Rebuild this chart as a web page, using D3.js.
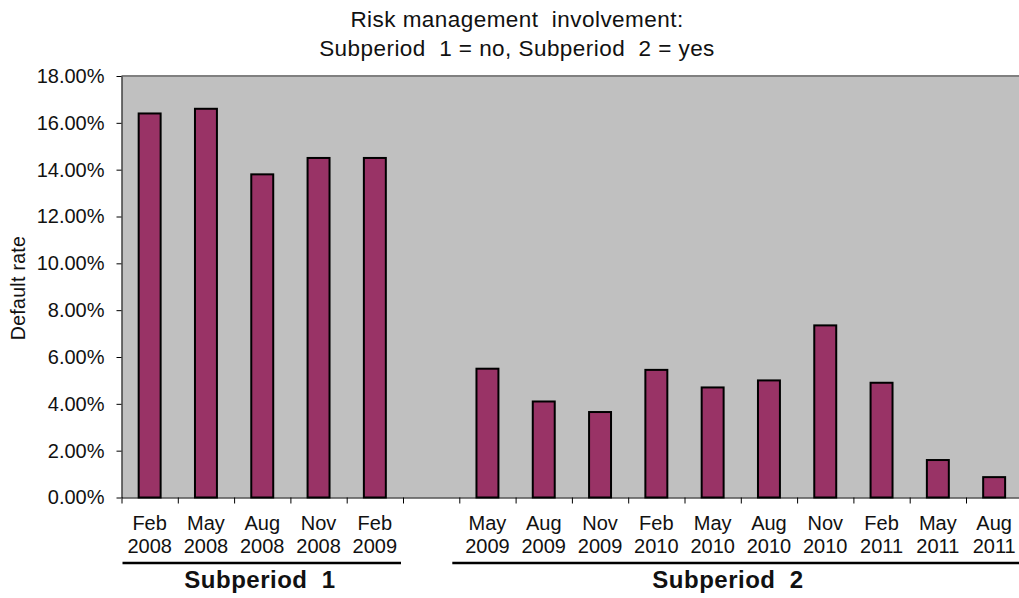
<!DOCTYPE html>
<html>
<head>
<meta charset="utf-8">
<script src="https://cdn.jsdelivr.net/npm/d3@7"></script>
<style>
  html, body { margin: 0; padding: 0; background: #fff; }
  svg { display: block; font-family: "Liberation Sans", Arial, sans-serif; }
  text { white-space: pre; fill: #111; }
</style>
</head>
<body>
<svg id="chart" width="1019" height="598"></svg>
<script>
// Quarterly default rates (%), split into the two subperiods
const periods1 = ["Feb 2008", "May 2008", "Aug 2008", "Nov 2008", "Feb 2009"];
const rates1 = [16.4, 16.6, 13.8, 14.5, 14.5];
const periods2 = ["May 2009", "Aug 2009", "Nov 2009", "Feb 2010", "May 2010",
                  "Aug 2010", "Nov 2010", "Feb 2011", "May 2011", "Aug 2011"];
const rates2 = [5.5, 4.1, 3.65, 5.45, 4.7, 5.0, 7.35, 4.9, 1.6, 0.87];
const yTicks = [0, 2, 4, 6, 8, 10, 12, 14, 16, 18];
const groupNames = ["Subperiod  1", "Subperiod  2"];
const titleLines = ["Risk management  involvement:", "Subperiod  1 = no, Subperiod  2 = yes"];
const yLabel = "Default rate";

// One slot per quarter, with an empty slot between the subperiods
const slots = [
  ...periods1.map((p, i) => ({ key: p, label: p, value: rates1[i], group: 0 })),
  { key: "gap", label: "", value: null, group: -1 },
  ...periods2.map((p, i) => ({ key: p, label: p, value: rates2[i], group: 1 }))
];

const svg = d3.select("#chart");
const plot = { left: 121.5, right: 1022.3, top: 76, bottom: 497.5 };

const x = d3.scaleBand()
  .domain(slots.map(d => d.key))
  .range([plot.left, plot.right])
  .padding(0);
const xEdges = d3.scaleLinear()
  .domain([0, slots.length])
  .range([plot.left, plot.right]);
const y = d3.scaleLinear()
  .domain([0, 18])
  .range([plot.bottom, plot.top]);

// Plot area
svg.append("rect")
  .attr("x", plot.left).attr("y", plot.top)
  .attr("width", plot.right - plot.left).attr("height", plot.bottom - plot.top)
  .attr("fill", "#c0c0c0");
svg.append("line")
  .attr("x1", plot.left).attr("x2", plot.right)
  .attr("y1", plot.top).attr("y2", plot.top)
  .attr("stroke", "#808080").attr("stroke-width", 2);

// Bars
const barW = x.bandwidth() * 0.39;
svg.append("g").selectAll("rect")
  .data(slots.filter(d => d.value !== null))
  .join("rect")
  .attr("x", d => x(d.key) + (x.bandwidth() - barW) / 2)
  .attr("y", d => y(d.value))
  .attr("width", barW)
  .attr("height", d => y(0) - y(d.value))
  .attr("fill", "#993366")
  .attr("stroke", "#000")
  .attr("stroke-width", 2);

// Y axis
const yAxis = svg.append("g")
  .attr("transform", `translate(${plot.left},0)`)
  .call(d3.axisLeft(y).tickValues(yTicks)
    .tickFormat(v => d3.format(".2%")(v / 100))
    .tickSize(5).tickSizeOuter(0).tickPadding(12));
yAxis.select(".domain").attr("stroke", "#000");
yAxis.selectAll(".tick line").attr("stroke", "#000");
yAxis.selectAll("text")
  .attr("font-size", 20)
  .attr("font-family", "'Liberation Sans', Arial, sans-serif")
  .style("fill", "#111");

// X axis: tick marks on the slot boundaries
const xAxis = svg.append("g")
  .attr("transform", `translate(0,${plot.bottom})`)
  .call(d3.axisBottom(xEdges).tickValues(d3.range(0, slots.length + 1))
    .tickFormat("").tickSize(6).tickSizeOuter(0));
xAxis.select(".domain").attr("stroke", "#000");
xAxis.selectAll(".tick line").attr("stroke", "#000");

// Two-line category labels
const catLabels = svg.append("g").selectAll("text")
  .data(slots.filter(d => d.label))
  .join("text")
  .attr("x", d => x(d.key) + x.bandwidth() / 2)
  .attr("text-anchor", "middle")
  .attr("font-size", 20);
catLabels.append("tspan")
  .attr("x", d => x(d.key) + x.bandwidth() / 2)
  .attr("y", 529.5)
  .text(d => d.label.split(" ")[0]);
catLabels.append("tspan")
  .attr("x", d => x(d.key) + x.bandwidth() / 2)
  .attr("y", 552.5)
  .text(d => d.label.split(" ")[1]);

// Subperiod brackets and names
const groups = groupNames.map((name, g) => {
  const members = slots.filter(d => d.group === g);
  return {
    name,
    x0: x(members[0].key),
    x1: x(members[members.length - 1].key) + x.bandwidth()
  };
});
groups[0].lx0 = groups[0].x0 + 1; groups[0].lx1 = groups[0].x1 - 2;
groups[1].lx0 = groups[1].x0 - 7; groups[1].lx1 = groups[1].x1;
groups[0].cx = 260; groups[1].cx = 728;

svg.append("g").selectAll("line")
  .data(groups)
  .join("line")
  .attr("x1", d => d.lx0).attr("x2", d => d.lx1)
  .attr("y1", 563).attr("y2", 563)
  .attr("stroke", "#000").attr("stroke-width", 2.5);
svg.append("g").selectAll("text")
  .data(groups)
  .join("text")
  .attr("x", d => d.cx)
  .attr("y", 588)
  .attr("text-anchor", "middle")
  .attr("font-size", 24)
  .attr("font-weight", "bold")
  .attr("letter-spacing", 0.5)
  .text(d => d.name);

// Title
svg.append("g").selectAll("text")
  .data(titleLines)
  .join("text")
  .attr("x", 517)
  .attr("y", (d, i) => 27 + i * 28.5)
  .attr("text-anchor", "middle")
  .attr("font-size", 22.5)
  .attr("letter-spacing", 0.45)
  .text(d => d);

// Y axis title
svg.append("text")
  .attr("transform", "translate(25,288) rotate(-90)")
  .attr("text-anchor", "middle")
  .attr("font-size", 19.5)
  .attr("letter-spacing", 0.3)
  .text(yLabel);
</script>
</body>
</html>
